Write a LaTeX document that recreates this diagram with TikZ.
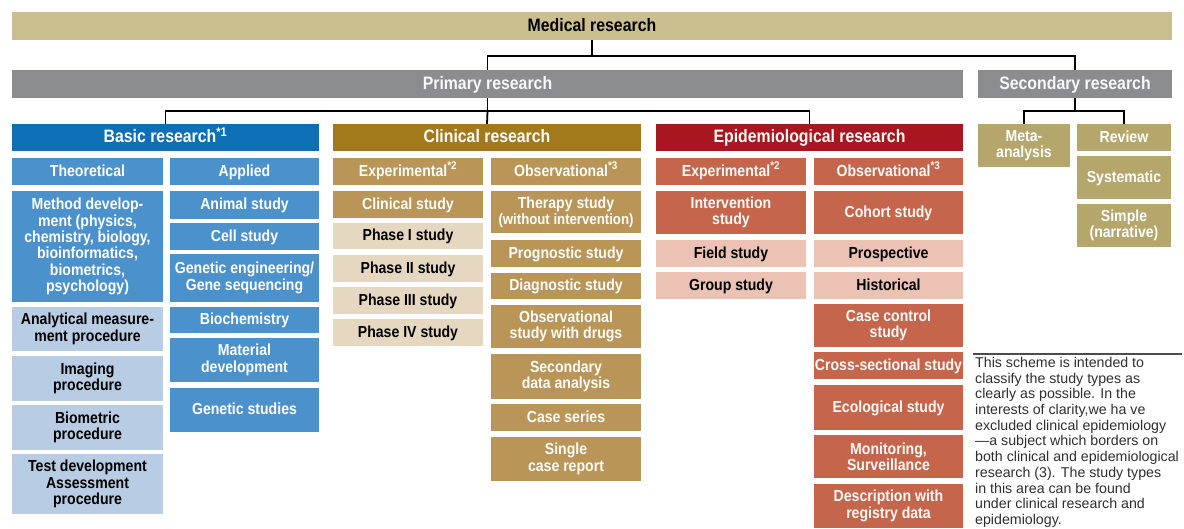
\documentclass[tikz,border=0pt]{standalone}
\usepackage{fontspec}
\setmainfont{Liberation Sans}
\newfontfamily\condfont{Liberation Sans}[FakeStretch=0.88]
\usepackage{xcolor}
\usepackage{tikz}
\usetikzlibrary{positioning}

\definecolor{medtan}{HTML}{CBBF90}
\definecolor{bargray}{HTML}{8B8C8F}
\definecolor{bluedark}{HTML}{0D6FB6}
\definecolor{bluemid}{HTML}{4B91CC}
\definecolor{bluelight}{HTML}{B8CCE4}
\definecolor{golddark}{HTML}{A27A1C}
\definecolor{goldmid}{HTML}{B99658}
\definecolor{goldlight}{HTML}{E6D8C0}
\definecolor{reddark}{HTML}{A8161F}
\definecolor{redmid}{HTML}{C5654B}
\definecolor{redlight}{HTML}{EBC2B3}
\definecolor{secolive}{HTML}{B5A66C}
\definecolor{notegray}{HTML}{2E2E2E}

\begin{document}
\begin{tikzpicture}[
  x=1pt, y=-1pt,
  bar/.style={rectangle, inner sep=0pt, text height=13pt, text depth=3pt,
    font=\condfont\bfseries\fontsize{18}{20}\selectfont},
  item/.style={rectangle, inner sep=0pt, align=center, font=\condfont\bfseries\fontsize{16}{16.3}\selectfont},
  one/.style={text height=11.5pt, text depth=2.5pt},
  blue/.style={item, fill=bluemid, text=white, minimum width=151},
  bluel/.style={item, fill=bluelight, text=black, minimum width=151},
  gold/.style={item, fill=goldmid, text=white!92!goldlight, minimum width=150},
  goldl/.style={item, fill=goldlight, text=black, minimum width=150},
  red/.style={item, fill=redmid, text=white!90!redlight, minimum width=150},
  redl/.style={item, fill=redlight, text=black, minimum width=150},
  olive/.style={item, fill=secolive, text=white, minimum width=94},
  conn/.style={draw=black, line width=1.8pt}
]
\useasboundingbox (0,0) rectangle (1184,528);

% top levels
\node (med)  [bar, fill=medtan, text=black, minimum width=1160, minimum height=28] at (592,26)    {Medical research};
\node (prim) [bar, fill=bargray, text=white!94!bargray, minimum width=951, minimum height=28] at (487.5,84) {Primary research};
\node (sec)  [bar, fill=bargray, text=white!94!bargray, minimum width=194, minimum height=28] at (1075,84)  {Secondary research};

\node (basic) [bar, fill=bluedark, text=white, minimum width=307, minimum height=27] at (165.5,137.5) {Basic research\textsuperscript{*1}};
\node (clin)  [bar, fill=golddark, text=white!92!goldlight, minimum width=308, minimum height=27] at (487,137.5) {Clinical research};
\node (epi)   [bar, fill=reddark, text=white!90!redlight, minimum width=307, minimum height=27] at (809.5,137.5) {Epidemiological research};

% basic research
\node (theo)     [blue, one, minimum height=27] at (87.5,171.5) {Theoretical};
\node (methdev)  [blue, minimum height=111] at (87.5,246.5) {Method develop-\\ment (physics,\\chemistry, biology,\\bioinformatics,\\biometrics,\\psychology)};
\node (analyt)   [bluel, minimum height=44] at (87.5,329)   {Analytical measure-\\ment procedure};
\node (imaging)  [bluel, minimum height=45] at (87.5,378.5) {Imaging\\procedure};
\node (biometric)[bluel, minimum height=45] at (87.5,427.5) {Biometric\\procedure};
\node (testdev)  [bluel, minimum height=60] at (87.5,484)   {Test development\\Assessment\\procedure};

\node (applied)  [blue, one, minimum width=149, minimum height=27] at (244.5,171.5) {Applied};
\node (animal)   [blue, one, minimum width=149, minimum height=28] at (244.5,205)   {Animal study};
\node (cell)     [blue, one, minimum width=149, minimum height=27] at (244.5,236.5) {Cell study};
\node (geneng)   [blue, minimum width=149, minimum height=48] at (244.5,278)   {Genetic engineering/\\Gene sequencing};
\node (biochem)  [blue, one, minimum width=149, minimum height=26] at (244.5,320)   {Biochemistry};
\node (material) [blue, minimum width=149, minimum height=44] at (244.5,360)   {Material\\development};
\node (genstud)  [blue, one, minimum width=149, minimum height=44] at (244.5,410)   {Genetic studies};

% clinical research
\node (clinexp)   [gold, one, minimum height=27] at (408,171.5) {Experimental\textsuperscript{*2}};
\node (clinstudy) [gold, one, minimum height=27] at (408,204.5) {Clinical study};
\node (phase1)    [goldl, one, minimum height=26] at (408,236)   {Phase I study};
\node (phase2)    [goldl, one, minimum height=27] at (408,268.5) {Phase II study};
\node (phase3)    [goldl, one, minimum height=27] at (408,300.5) {Phase III study};
\node (phase4)    [goldl, one, minimum height=27] at (408,332.5) {Phase IV study};

\node (clinobs)    [gold, one, minimum height=27] at (566,171.5) {Observational\textsuperscript{*3}};
\node (therapy)    [gold, minimum height=42] at (566,212)   {Therapy study\\{\fontsize{15}{14}\selectfont(without intervention)}};
\node (prognostic) [gold, one, minimum height=27] at (566,253.5) {Prognostic study};
\node (diagnostic) [gold, one, minimum height=26] at (566,286)   {Diagnostic study};
\node (obsdrugs)   [gold, minimum height=43] at (566,326.5) {Observational\\study with drugs};
\node (secdata)    [gold, minimum height=45] at (566,376.5) {Secondary\\data analysis};
\node (caseseries) [gold, one, minimum height=27] at (566,417.5) {Case series};
\node (singlecase) [gold, minimum height=44] at (566,459)   {Single\\case report};

% epidemiological research
\node (epiexp)       [red, one, minimum height=27] at (731,171.5) {Experimental\textsuperscript{*2}};
\node (intervention) [red, minimum height=43] at (731,212.5) {Intervention\\study};
\node (field)        [redl, one, minimum height=27] at (731,253.5) {Field study};
\node (group)        [redl, one, minimum height=27] at (731,285.5) {Group study};

\node (epiobs)      [red, one, minimum width=149, minimum height=27] at (888.5,171.5) {Observational\textsuperscript{*3}};
\node (cohort)      [red, one, minimum width=149, minimum height=43] at (888.5,212.5) {Cohort study};
\node (prospective) [redl, one, minimum width=149, minimum height=27] at (888.5,253.5) {Prospective};
\node (historical)  [redl, one, minimum width=149, minimum height=27] at (888.5,285.5) {Historical};
\node (casecontrol) [red, minimum width=149, minimum height=43] at (888.5,325.5) {Case control\\study};
\node (crosssec)    [red, one, minimum width=149, minimum height=27] at (888.5,365.5) {Cross-sectional study};
\node (ecological)  [red, one, minimum width=149, minimum height=45] at (888.5,407.5) {Ecological study};
\node (monitoring)  [red, minimum width=149, minimum height=43] at (888.5,456.5) {Monitoring,\\Surveillance};
\node (registry)    [red, minimum width=149, minimum height=44] at (888.5,506)   {Description with\\registry data};

% secondary research
\node (meta)   [olive, minimum width=92, minimum height=43] at (1024,145.5) {Meta-\\analysis};
\node (review) [olive, one, minimum height=27] at (1124,137.5) {Review};
\node (syst)   [olive, one, minimum height=43] at (1124,177.5) {Systematic};
\node (simple) [olive, minimum height=43] at (1124,225.5) {Simple\\(narrative)};

% connectors
\draw[conn] (med.south) -- ++(0,16) coordinate (medj);
\draw[conn] (prim.north) |- (medj) -| (sec.north);
\draw[conn] (prim.south) -- ++(0,13) coordinate (primj);
\draw[conn] (basic.north) |- (primj) -| (epi.north);
\draw[conn] (primj) -- (clin.north);
\draw[conn] (sec.south) -- ++(0,13) coordinate (secj);
\draw[conn] (meta.north) |- (secj) -| (review.north);

% note
\coordinate (noteleft) at (973,354);
\coordinate (noteright) at (1182,354);
\draw[draw=black!70, line width=1.2pt] (noteleft) -- (noteright);
\node (note) [anchor=north west, inner sep=0pt, align=left, text=notegray,
  font=\fontsize{14.2}{15.7}\selectfont] at (975,357)
  {This scheme is intended to\\classify the study types as\\clearly as possible. In the\\interests of clarity,we ha ve\\excluded clinical epidemiology\\---a subject which borders on\\both clinical and epidemiological\\research (3). The study types\\in this area can be found\\under clinical research and\\epidemiology.};
\end{tikzpicture}
\end{document}
